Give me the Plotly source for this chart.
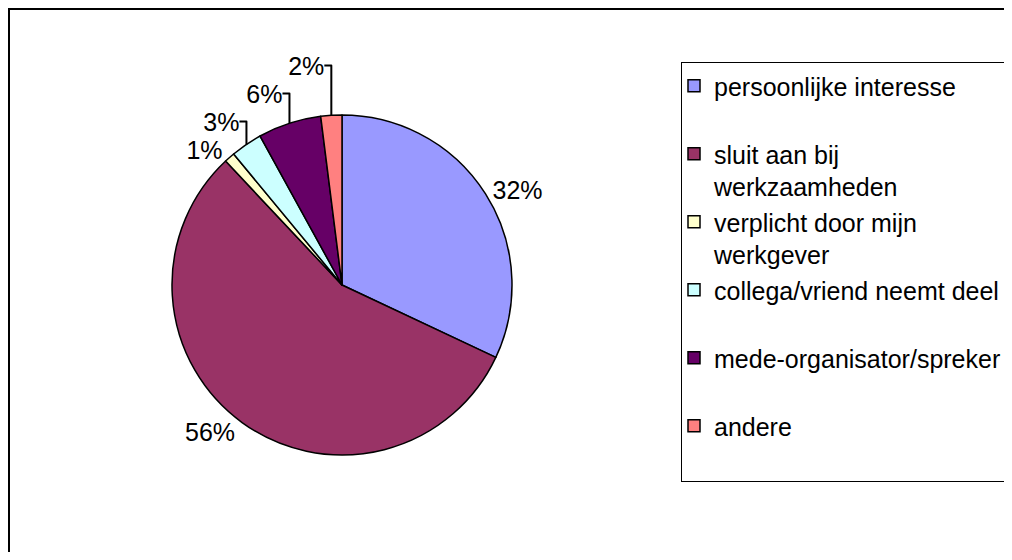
import plotly.graph_objects as go

# values (percentages of respondents)
labels = [
    "persoonlijke interesse",
    "sluit aan bij<br>werkzaamheden",
    "verplicht door mijn<br>werkgever",
    "collega/vriend neemt deel",
    "mede-organisator/spreker",
    "andere",
]
values = [32, 56, 1, 3, 6, 2]
colors = ["#9999FF", "#993366", "#FFFFCC", "#CCFFFF", "#660066", "#FF8080"]

# the page body has an 8px margin, so the figure is sized to fit the window
W, H = 996, 544
# pie centre ~ (334, 277) in figure px, radius ~170 px
cx, cy, r = 334, 277, 170

# pad single-line legend entries so items are spread out like the original
legend_labels = [lab + "<br> " if "<br>" not in lab else lab for lab in labels]

fig = go.Figure(go.Pie(
    labels=legend_labels,
    values=values,
    sort=False,
    direction="clockwise",
    rotation=0,
    marker=dict(colors=colors, line=dict(color="black", width=1.5)),
    textinfo="percent",
    textposition="outside",
    texttemplate="%{percent:.0%}",
    outsidetextfont=dict(family="Liberation Sans, Arial", size=25, color="black"),
    domain=dict(x=[(cx - r) / W, (cx + r) / W], y=[1 - (cy + r) / H, 1 - (cy - r) / H]),
    hoverinfo="label+percent",
))

fig.update_layout(
    width=W,
    height=H,
    margin=dict(l=0, r=0, t=0, b=0, autoexpand=False),
    paper_bgcolor="white",
    font=dict(family="Liberation Sans, Arial", size=25, color="black"),
    showlegend=True,
    legend=dict(
        x=673 / W, xanchor="left",
        y=1 - 54 / H, yanchor="top",
        bgcolor="white",
        bordercolor="black",
        borderwidth=1,
        valign="top",
        indentation=-8,
        font=dict(size=25, color="black"),
    ),
    shapes=[dict(
        type="rect", xref="paper", yref="paper",
        x0=1 / W, x1=1.05, y0=-0.05, y1=1 - 1 / H,
        line=dict(color="black", width=2),
        layer="below",
    )],
)

fig.write_html("out.html")
